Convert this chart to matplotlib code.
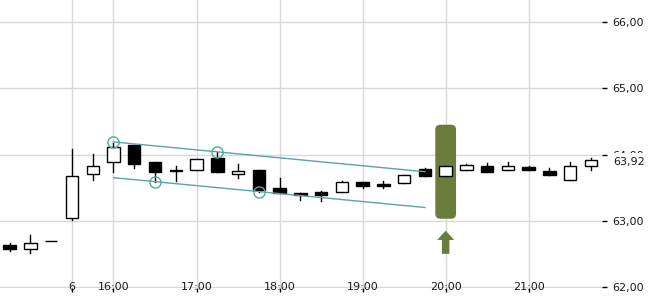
"""Intraday 15-minute candlestick chart with a descending channel and a highlighted bar."""
import numpy as np
import matplotlib
matplotlib.use("Agg")
import matplotlib.pyplot as plt
import matplotlib.transforms as mtransforms
from matplotlib.patches import Rectangle, FancyBboxPatch, FancyArrow

# ---------------------------------------------------------------------
# data (15-minute bars, index based x axis)
opens = [62.63, 62.57, 62.69, 63.04, 63.70, 63.88, 64.14, 63.88, 63.77, 63.76,
         63.95, 63.71, 63.77, 63.49, 63.42, 63.43, 63.43, 63.58, 63.55, 63.57,
         63.78, 63.67, 63.76, 63.82, 63.76, 63.81, 63.75, 63.61, 63.82]
highs = [62.66, 62.78, 62.69, 64.09, 64.01, 64.18, 64.15, 63.88, 63.83, 63.93,
         64.04, 63.86, 63.77, 63.65, 63.42, 63.45, 63.60, 63.58, 63.60, 63.69,
         63.80, 63.82, 63.85, 63.87, 63.88, 63.82, 63.79, 63.89, 63.94]
lows = [62.55, 62.51, 62.69, 63.01, 63.62, 63.74, 63.80, 63.59, 63.60, 63.76,
        63.73, 63.65, 63.44, 63.42, 63.32, 63.30, 63.43, 63.50, 63.50, 63.57,
        63.67, 63.67, 63.76, 63.73, 63.76, 63.76, 63.69, 63.61, 63.77]
closes = [62.58, 62.66, 62.69, 63.67, 63.82, 64.11, 63.86, 63.74, 63.75, 63.93,
          63.73, 63.75, 63.46, 63.42, 63.39, 63.39, 63.58, 63.52, 63.53, 63.69,
          63.67, 63.82, 63.84, 63.74, 63.82, 63.77, 63.69, 63.82, 63.92]

xtick_idx = [3, 5, 9, 13, 17, 21, 25]
xtick_labels = ["6", "16:00", "17:00", "18:00", "19:00", "20:00", "21:00"]
yticks = [62, 63, 64, 65, 66]
last_price = 63.92

# channel lines and their pivot points
upper_idx = [5, 20]
upper_val = [64.19, 63.74]
lower_idx = [5, 20]
lower_val = [63.65, 63.20]
pivot_idx = [5, 7, 10, 12]
pivot_val = [64.19, 63.59, 64.04, 63.44]

# highlighted bar
hl_idx = 21
hl_low, hl_high = 63.03, 64.45
arrow_base, arrow_top = 62.50, 62.85

TEAL = "#5ba3a6"
GREEN = "#6b7d3a"
GRID = "#d9d9d9"
TXT = "#1a1a1a"

plt.rcParams.update({"font.family": "DejaVu Sans", "font.size": 8})

fig = plt.figure(figsize=(6.5, 3.0), dpi=100)
ax = fig.add_axes([0, 12 / 300, 602 / 650, 288 / 300])
ax.set_xlim(-0.467, 28.53)
ax.set_ylim(61.985, 66.332)

for s in ax.spines.values():
    s.set_visible(False)
ax.set_axisbelow(True)
ax.grid(True, color=GRID, lw=1)

# highlight box + arrow (behind candles)
box = FancyBboxPatch((hl_idx - 0.5, hl_low), 1.0, hl_high - hl_low,
                     boxstyle="round,pad=0,rounding_size=0.25",
                     mutation_aspect=0.30, fc=GREEN, ec="none", zorder=2)
ax.add_patch(box)
ax.add_patch(FancyArrow(hl_idx, arrow_base, 0, arrow_top - arrow_base,
                        width=0.36, head_width=0.82, head_length=0.14,
                        length_includes_head=True, fc=GREEN, ec="none", zorder=2))

# candles
w = 0.6
for i, (o, h, l, c) in enumerate(zip(opens, highs, lows, closes)):
    ax.plot([i, i], [l, h], color="black", lw=1, zorder=3)
    up = c >= o
    ax.add_patch(Rectangle((i - w / 2, min(o, c)), w, abs(c - o),
                           fc="white" if up else "black", ec="black",
                           lw=1, zorder=4))

# channel
ax.plot(upper_idx, upper_val, color=TEAL, lw=1, zorder=5)
ax.plot(lower_idx, lower_val, color=TEAL, lw=1, zorder=5)
ax.plot(pivot_idx, pivot_val, "o", ms=8, mfc="none", mec=TEAL, mew=1, zorder=6)

# x axis: labels sit on the bottom grid line
ax.set_xticks(xtick_idx)
ax.set_xticklabels([])
ax.tick_params(axis="x", direction="out", length=3, width=1, color="black")
for i, lab in zip(xtick_idx, xtick_labels):
    ax.text(i, 62.0, lab, ha="center", va="center", fontsize=8, color=TXT)

# y axis on the right
ax.yaxis.tick_right()
ax.set_yticks(yticks)
ax.set_yticklabels([f"{v:.2f}".replace(".", ",") for v in yticks])
ax.tick_params(axis="y", direction="out", length=3.6, width=1, pad=4,
               color="black", labelcolor=TXT)

# last price label, covering most of the 64,00 tick label
trans = mtransforms.blended_transform_factory(ax.transAxes, ax.transData)
ax.annotate(f"{last_price:.2f}".replace(".", ","), xy=(1.0, last_price),
            xycoords=trans, xytext=(11, -2.5), textcoords="offset pixels",
            ha="left", va="center", fontsize=8, color=TXT,
            annotation_clip=False, zorder=10,
            bbox=dict(fc="white", ec="none", pad=3.2))

fig.savefig("out.png", dpi=100)
